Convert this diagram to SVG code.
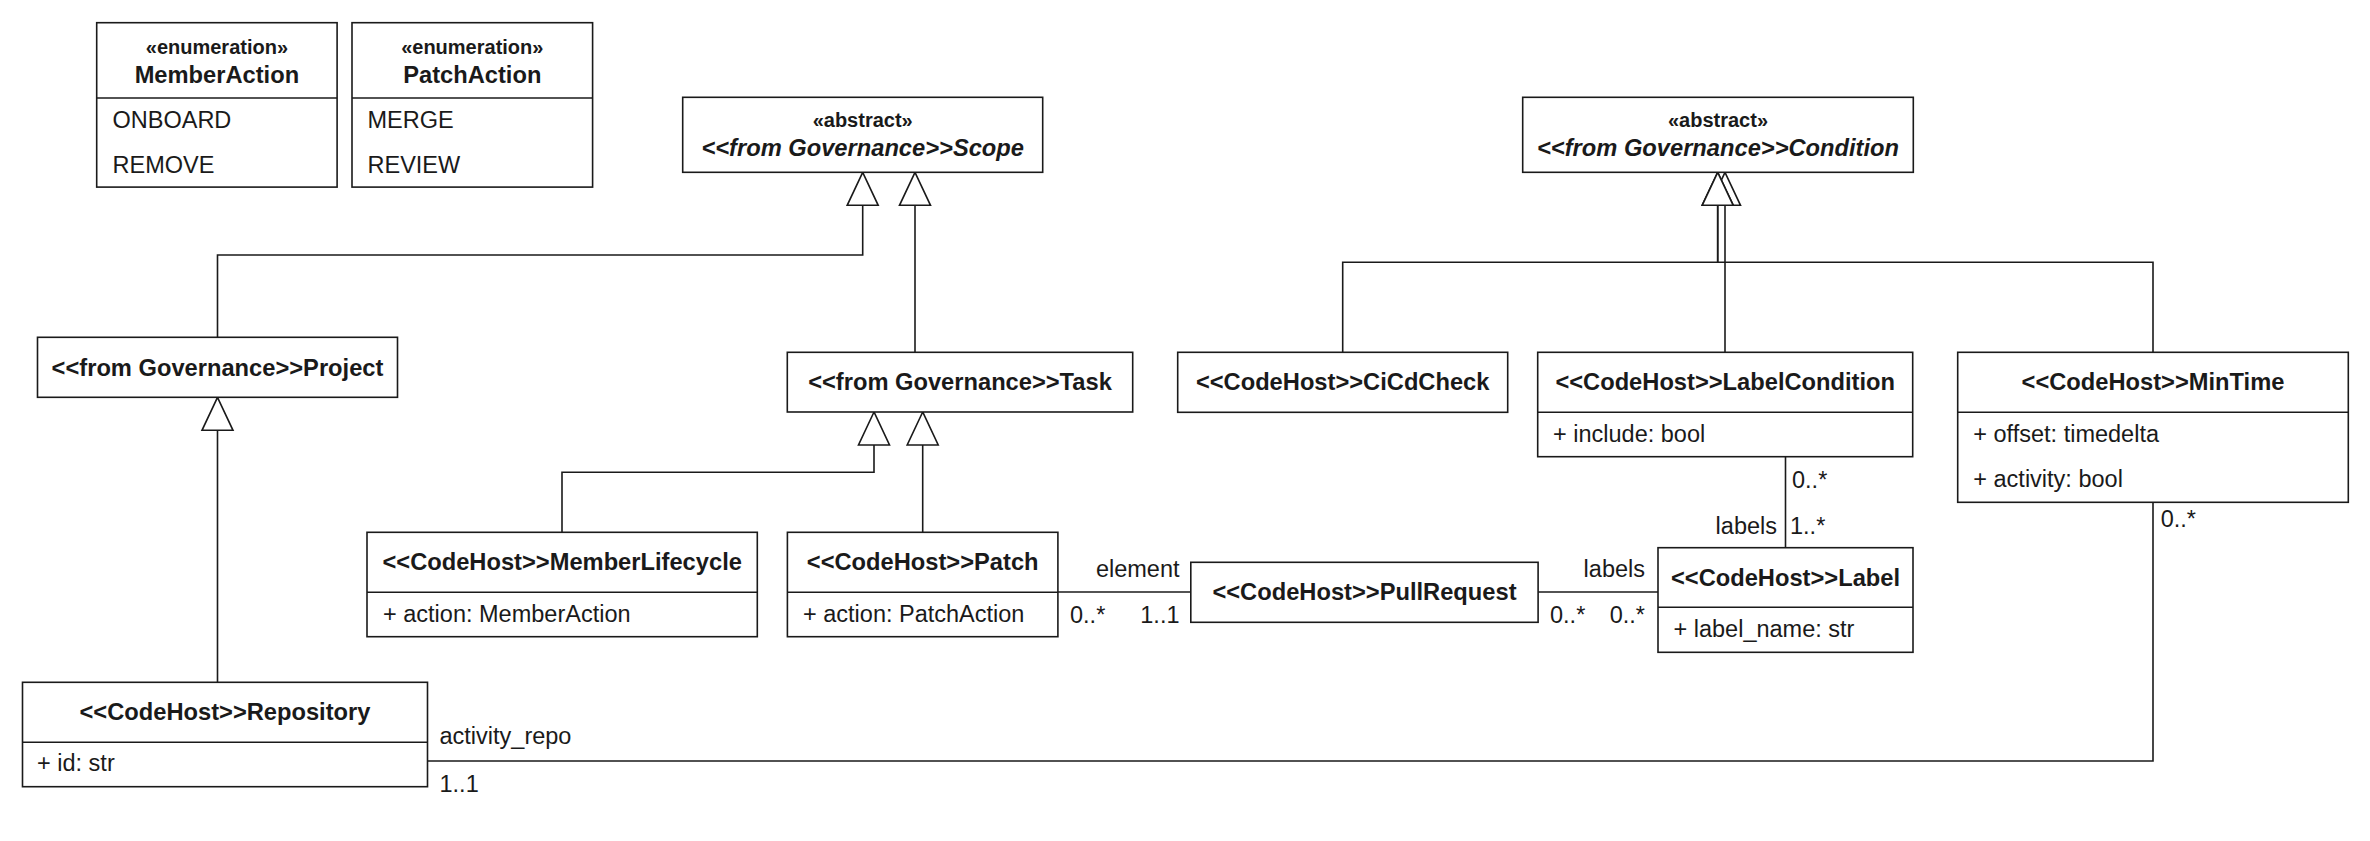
<svg xmlns="http://www.w3.org/2000/svg" width="2370" height="841" viewBox="0 0 2370 841">
<style>
  .box{fill:#ffffff;stroke:#1a1a1a;stroke-width:1.6}
  .div{stroke:#1a1a1a;stroke-width:1.6}
  .t{font-family:"Liberation Sans",Arial,sans-serif;fill:#1a1a1a}
  .st{font-size:20px;font-weight:bold;text-anchor:middle}
  .nm{font-size:23.7px;font-weight:bold;text-anchor:middle}
  .ab{font-size:23.7px;font-weight:bold;font-style:italic;text-anchor:middle}
  .at{font-size:23.5px}
  .lb{font-size:23.5px}
  .end{text-anchor:end}
  .edge{fill:none;stroke:#1a1a1a;stroke-width:1.6}
  .gen{marker-end:url(#tri)}
</style>
<defs>
  <marker id="tri" markerUnits="userSpaceOnUse" markerWidth="44" markerHeight="44" viewBox="-38 -22 44 44" refX="0" refY="0" orient="auto" overflow="visible">
    <path d="M0,0 L-33,-15.5 L-33,15.5 Z" fill="#ffffff" stroke="#1a1a1a" stroke-width="1.6" stroke-linejoin="miter"/>
  </marker>
</defs>
<rect width="2370" height="841" fill="#ffffff"/>

<g id="connectors">
  <path class="edge gen" d="M217.5,337.3 V255 H862.7 V172.3"/>
  <path class="edge gen" d="M915,352.3 V172.3"/>
  <path class="edge gen" d="M562,532.3 V472.3 H874 V412"/>
  <path class="edge gen" d="M922.7,532.3 V412"/>
  <path class="edge gen" d="M217.5,682.3 V397.3"/>
  <path class="edge gen" d="M1725,352.3 V172.3"/>
  <path class="edge gen" d="M2153,352.3 V262.3 H1717.7 V172.3"/>
  <path class="edge gen" d="M1342.7,352.3 V262.3 H1717.7 V172.3"/>
  <path class="edge" d="M1057.9,592 H1190.8"/>
  <path class="edge" d="M1538.1,592 H1658"/>
  <path class="edge" d="M1785.5,456.7 V547.7"/>
  <path class="edge" d="M2153,502.3 V761 H427.5"/>
  <text class="t lb end" x="1179.5" y="577">element</text>
  <text class="t lb" x="1070" y="623">0..*</text>
  <text class="t lb end" x="1179.5" y="623">1..1</text>
  <text class="t lb end" x="1645" y="577">labels</text>
  <text class="t lb" x="1550" y="623">0..*</text>
  <text class="t lb end" x="1645" y="623">0..*</text>
  <text class="t lb" x="1792" y="488">0..*</text>
  <text class="t lb end" x="1777" y="534">labels</text>
  <text class="t lb" x="1790" y="534">1..*</text>
  <text class="t lb" x="2160.7" y="527">0..*</text>
  <text class="t lb" x="439.5" y="744">activity_repo</text>
  <text class="t lb" x="439.5" y="792">1..1</text>
</g>

<g id="MemberAction">
  <rect class="box" x="96.7" y="22.7" width="240.4" height="164.4"/>
  <line class="div" x1="96.7" y1="98" x2="337.1" y2="98"/>
  <text class="t st" x="216.9" y="54">«enumeration»</text>
  <text class="t nm" x="216.9" y="82.5">MemberAction</text>
  <text class="t at" x="112.5" y="127.5">ONBOARD</text>
  <text class="t at" x="112.5" y="172.5">REMOVE</text>
</g>

<g id="PatchAction">
  <rect class="box" x="352" y="22.7" width="240.6" height="164.4"/>
  <line class="div" x1="352" y1="98" x2="592.6" y2="98"/>
  <text class="t st" x="472.3" y="54">«enumeration»</text>
  <text class="t nm" x="472.3" y="82.5">PatchAction</text>
  <text class="t at" x="367.5" y="127.5">MERGE</text>
  <text class="t at" x="367.5" y="172.5">REVIEW</text>
</g>

<g id="Scope">
  <rect class="box" x="682.7" y="97.3" width="360" height="75"/>
  <text class="t st" x="862.7" y="127">«abstract»</text>
  <text class="t ab" x="862.7" y="156">&lt;&lt;from Governance&gt;&gt;Scope</text>
</g>

<g id="Condition">
  <rect class="box" x="1522.7" y="97.3" width="390.6" height="75"/>
  <text class="t st" x="1718" y="127">«abstract»</text>
  <text class="t ab" x="1718" y="156">&lt;&lt;from Governance&gt;&gt;Condition</text>
</g>

<g id="Project">
  <rect class="box" x="37.5" y="337.3" width="360" height="60"/>
  <text class="t nm" x="217.5" y="375.5">&lt;&lt;from Governance&gt;&gt;Project</text>
</g>

<g id="Task">
  <rect class="box" x="787.3" y="352.3" width="345.4" height="59.7"/>
  <text class="t nm" x="960" y="390">&lt;&lt;from Governance&gt;&gt;Task</text>
</g>

<g id="CiCdCheck">
  <rect class="box" x="1177.7" y="352.3" width="330" height="60"/>
  <text class="t nm" x="1342.7" y="390">&lt;&lt;CodeHost&gt;&gt;CiCdCheck</text>
</g>

<g id="LabelCondition">
  <rect class="box" x="1537.7" y="352.3" width="375" height="104.4"/>
  <line class="div" x1="1537.7" y1="412.3" x2="1912.7" y2="412.3"/>
  <text class="t nm" x="1725.2" y="390">&lt;&lt;CodeHost&gt;&gt;LabelCondition</text>
  <text class="t at" x="1553" y="441.7">+ include: bool</text>
</g>

<g id="MinTime">
  <rect class="box" x="1957.7" y="352.3" width="390.6" height="150"/>
  <line class="div" x1="1957.7" y1="412.3" x2="2348.3" y2="412.3"/>
  <text class="t nm" x="2153" y="390">&lt;&lt;CodeHost&gt;&gt;MinTime</text>
  <text class="t at" x="1973.3" y="441.7">+ offset: timedelta</text>
  <text class="t at" x="1973.3" y="486.7">+ activity: bool</text>
</g>

<g id="MemberLifecycle">
  <rect class="box" x="367" y="532.3" width="390.3" height="104.4"/>
  <line class="div" x1="367" y1="592.3" x2="757.3" y2="592.3"/>
  <text class="t nm" x="562.2" y="570">&lt;&lt;CodeHost&gt;&gt;MemberLifecycle</text>
  <text class="t at" x="383" y="621.7">+ action: MemberAction</text>
</g>

<g id="Patch">
  <rect class="box" x="787.4" y="532.3" width="270.5" height="104.4"/>
  <line class="div" x1="787.4" y1="592.3" x2="1057.9" y2="592.3"/>
  <text class="t nm" x="922.7" y="570">&lt;&lt;CodeHost&gt;&gt;Patch</text>
  <text class="t at" x="803" y="621.7">+ action: PatchAction</text>
</g>

<g id="PullRequest">
  <rect class="box" x="1190.8" y="562.3" width="347.3" height="60"/>
  <text class="t nm" x="1364.5" y="600">&lt;&lt;CodeHost&gt;&gt;PullRequest</text>
</g>

<g id="Label">
  <rect class="box" x="1658" y="547.7" width="255" height="104.6"/>
  <line class="div" x1="1658" y1="607.3" x2="1913" y2="607.3"/>
  <text class="t nm" x="1785.5" y="585.5">&lt;&lt;CodeHost&gt;&gt;Label</text>
  <text class="t at" x="1673.5" y="637">+ label_name: str</text>
</g>

<g id="Repository">
  <rect class="box" x="22.5" y="682.3" width="405" height="104.4"/>
  <line class="div" x1="22.5" y1="742.3" x2="427.5" y2="742.3"/>
  <text class="t nm" x="225" y="720">&lt;&lt;CodeHost&gt;&gt;Repository</text>
  <text class="t at" x="37" y="771">+ id: str</text>
</g>
</svg>
